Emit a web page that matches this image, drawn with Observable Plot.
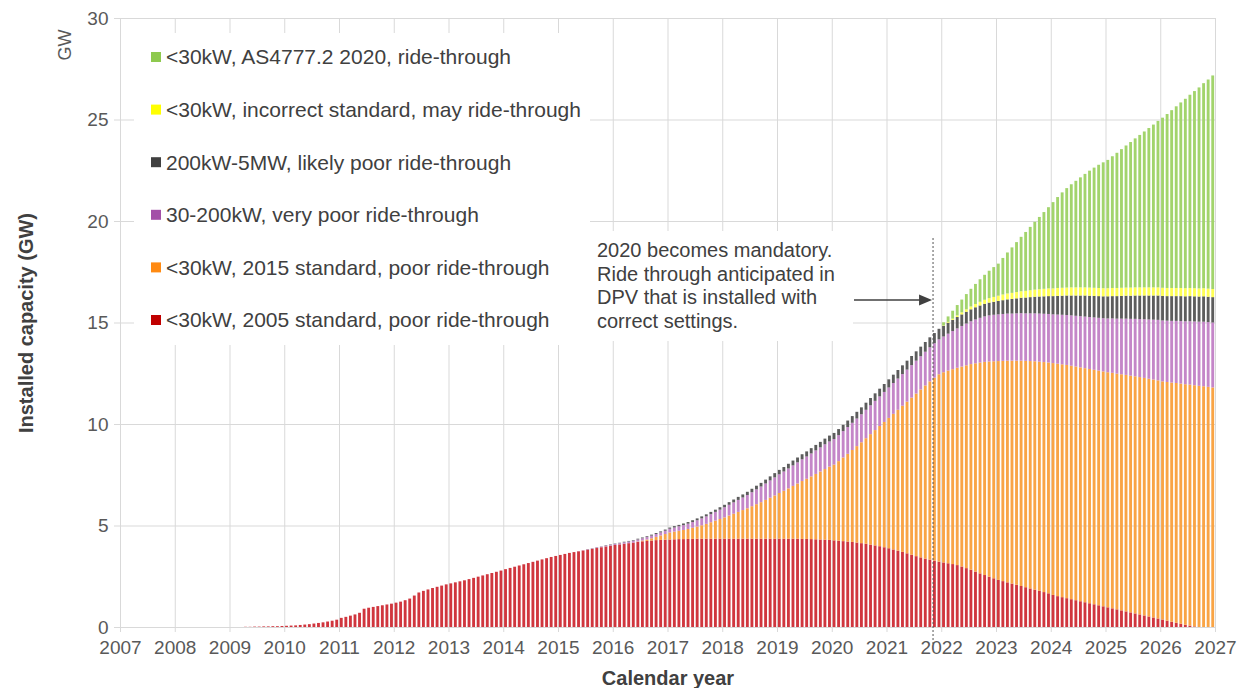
<!DOCTYPE html>
<html>
<head>
<meta charset="utf-8">
<script src="https://cdn.jsdelivr.net/npm/d3@7"></script>
<script src="https://cdn.jsdelivr.net/npm/@observablehq/plot@0.6"></script>
<style>
  html, body { margin: 0; padding: 0; background: #fff; }
  svg { display: block; }
</style>
</head>
<body>
<script>
// ---- Data (GW, monthly bars, Jan of start year onward) ----
const seriesNames = [
  "<30kW, 2005 standard, poor ride-through",
  "<30kW, 2015 standard, poor ride-through",
  "30-200kW, very poor ride-through",
  "200kW-5MW, likely poor ride-through",
  "<30kW, incorrect standard, may ride-through",
  "<30kW, AS4777.2 2020, ride-through"
];
const barColors = ["#d0363e", "#f9a445", "#c486c8", "#5c5c5c", "#ffff55", "#a2d46c"];
const legendColors = ["#c00000", "#ff8a12", "#a350a8", "#404040", "#ffff00", "#8ec94e"];
const xTicks = [2007,2008,2009,2010,2011,2012,2013,2014,2015,2016,2017,2018,2019,2020,2021,2022,2023,2024,2025,2026,2027];
const yTicks = [0, 5, 10, 15, 20, 25, 30];

const std2005Start = 2009;
const std2005 = [
  0,0,0,0.01,0.01,0.02,0.02,0.03,0.03,0.04,0.04,0.05,
  0.06,0.07,0.08,0.10,0.12,0.14,0.17,0.20,0.23,0.27,0.31,0.36,
  0.45,0.50,0.56,0.62,0.70,0.90,0.95,0.99,1.03,1.07,1.11,1.15,
  1.20,1.25,1.32,1.40,1.55,1.70,1.78,1.85,1.92,1.98,2.04,2.10,
  2.15,2.20,2.25,2.30,2.36,2.42,2.48,2.54,2.60,2.66,2.72,2.78,
  2.85,2.91,2.97,3.03,3.09,3.15,3.21,3.27,3.33,3.39,3.45,3.50,
  3.55,3.60,3.65,3.69,3.73,3.77,3.81,3.85,3.89,3.93,3.97,4.01,
  4.04,4.07,4.10,4.13,4.16,4.19,4.22,4.24,4.26,4.28,4.29,4.30,
  4.31,4.32,4.33,4.33,4.34,4.34,4.35,4.35,4.35,4.35,4.35,4.35,
  4.35,4.35,4.35,4.35,4.35,4.35,4.35,4.35,4.35,4.35,4.35,4.35,
  4.35,4.35,4.35,4.35,4.35,4.34,4.34,4.33,4.32,4.31,4.30,4.29,
  4.27,4.25,4.23,4.21,4.19,4.16,4.13,4.10,4.06,4.02,3.98,3.93,
  3.88,3.82,3.76,3.70,3.63,3.56,3.49,3.43,3.37,3.32,3.27,3.22,
  3.18,3.14,3.10,3.05,2.98,2.90,2.82,2.73,2.64,2.56,2.48,2.40,
  2.32,2.26,2.20,2.14,2.08,2.02,1.96,1.90,1.84,1.78,1.72,1.66,
  1.58,1.52,1.47,1.42,1.37,1.32,1.27,1.22,1.17,1.12,1.07,1.02,
  0.97,0.92,0.87,0.82,0.77,0.72,0.67,0.62,0.57,0.52,0.47,0.42,
  0.37,0.31,0.26,0.21,0.16,0.11,0.07,0.03,0,0,0,0
];

const std2015Start = 2016;
const std2015 = [
  0,0,0,0,0,0.02,0.04,0.07,0.11,0.16,0.22,0.28,
  0.35,0.38,0.41,0.45,0.49,0.55,0.60,0.66,0.73,0.81,0.89,0.97,
  1.05,1.14,1.23,1.32,1.41,1.50,1.60,1.70,1.80,1.91,2.02,2.13,
  2.25,2.36,2.48,2.60,2.72,2.85,2.96,3.09,3.22,3.35,3.48,3.61,
  3.73,3.92,4.12,4.32,4.53,4.75,4.97,5.20,5.44,5.68,5.92,6.17,
  6.42,6.68,6.94,7.20,7.47,7.74,8.01,8.27,8.53,8.78,9.01,9.23,
  9.37,9.49,9.60,9.72,9.85,9.99,10.13,10.26,10.39,10.50,10.60,10.69,
  10.78,10.85,10.92,10.98,11.04,11.10,11.15,11.20,11.25,11.29,11.33,11.37,
  11.42,11.45,11.47,11.49,11.50,11.51,11.52,11.53,11.54,11.55,11.56,11.57,
  11.58,11.60,11.61,11.63,11.65,11.66,11.68,11.69,11.70,11.71,11.72,11.73,
  11.73,11.76,11.78,11.81,11.83,11.85,11.87,11.88,11.88,11.86,11.83,11.80
];

const kw30to200Start = 2015;
const kw30to200 = [
  0,0,0,0,0.01,0.01,0.02,0.02,0.03,0.03,0.04,0.04,
  0.05,0.06,0.07,0.08,0.09,0.10,0.11,0.12,0.13,0.14,0.15,0.16,
  0.18,0.20,0.22,0.24,0.26,0.28,0.31,0.34,0.37,0.40,0.43,0.46,
  0.50,0.53,0.56,0.59,0.62,0.65,0.69,0.73,0.77,0.81,0.85,0.89,
  0.92,0.95,0.98,1.01,1.04,1.07,1.10,1.13,1.16,1.19,1.22,1.24,
  1.26,1.28,1.30,1.32,1.34,1.36,1.38,1.40,1.42,1.44,1.46,1.48,
  1.50,1.52,1.54,1.56,1.58,1.60,1.62,1.64,1.66,1.68,1.70,1.72,
  1.76,1.82,1.88,1.94,2.00,2.06,2.11,2.16,2.20,2.24,2.27,2.29,
  2.30,2.31,2.32,2.32,2.33,2.34,2.34,2.35,2.36,2.37,2.38,2.39,
  2.40,2.42,2.44,2.46,2.48,2.50,2.52,2.54,2.56,2.58,2.60,2.62,
  2.65,2.68,2.71,2.74,2.77,2.80,2.83,2.86,2.89,2.92,2.95,2.98,
  3.00,3.02,3.04,3.06,3.08,3.10,3.12,3.14,3.16,3.18,3.19,3.20
];

const kw200to5MWStart = 2015;
const kw200to5MW = [
  0,0,0,0,0,0,0.01,0.01,0.01,0.01,0.02,0.02,
  0.02,0.02,0.03,0.03,0.03,0.04,0.04,0.04,0.05,0.05,0.05,0.06,
  0.06,0.07,0.07,0.08,0.08,0.09,0.09,0.10,0.10,0.11,0.11,0.12,
  0.12,0.13,0.14,0.15,0.15,0.16,0.17,0.18,0.18,0.19,0.20,0.21,
  0.22,0.22,0.23,0.24,0.24,0.25,0.25,0.26,0.27,0.27,0.28,0.29,
  0.30,0.30,0.31,0.32,0.33,0.33,0.34,0.35,0.36,0.37,0.38,0.39,
  0.40,0.41,0.42,0.43,0.44,0.45,0.46,0.47,0.48,0.49,0.50,0.52,
  0.53,0.54,0.55,0.56,0.57,0.58,0.59,0.60,0.61,0.62,0.63,0.64,
  0.66,0.68,0.70,0.72,0.74,0.76,0.78,0.80,0.82,0.84,0.86,0.88,
  0.90,0.92,0.94,0.96,0.98,1.00,1.02,1.04,1.05,1.06,1.07,1.08,
  1.09,1.10,1.11,1.12,1.13,1.14,1.15,1.16,1.17,1.18,1.19,1.20,
  1.21,1.21,1.22,1.22,1.23,1.23,1.24,1.24,1.24,1.25,1.25,1.25
];

const incorrectStart = 2022;
const incorrect = [
  0.02,0.04,0.06,0.08,0.10,0.12,0.14,0.16,0.18,0.20,0.22,0.24,
  0.26,0.28,0.29,0.30,0.31,0.32,0.33,0.34,0.35,0.36,0.37,0.38,
  0.38,0.39,0.39,0.39,0.40,0.40,0.40,0.40,0.40,0.40,0.40,0.40,
  0.40,0.40,0.40,0.40,0.40,0.40,0.40,0.40,0.40,0.40,0.40,0.40,
  0.40,0.40,0.40,0.40,0.40,0.40,0.40,0.40,0.40,0.40,0.40,0.40
];

const as4777Start = 2022;
const as4777 = [
  0.15,0.27,0.39,0.51,0.63,0.75,0.87,0.99,1.11,1.23,1.35,1.47,
  1.58,1.80,2.02,2.24,2.46,2.68,2.90,3.12,3.34,3.56,3.78,4.00,
  4.25,4.48,4.70,4.90,5.08,5.25,5.42,5.59,5.76,5.92,6.07,6.20,
  6.32,6.49,6.66,6.83,7.00,7.17,7.34,7.51,7.68,7.85,8.02,8.20,
  8.38,8.57,8.76,8.95,9.14,9.33,9.52,9.71,9.90,10.10,10.30,10.52
];

const annotationLines = [
  "2020 becomes mandatory.",
  "Ride through anticipated in",
  "DPV that is installed with",
  "correct settings."
];
const mandatoryDate = 2021.85;

// ---- Build table ----
const rows = [];
function addSeries(name, startYear, values) {
  values.forEach((v, i) => {
    if (v > 0) rows.push({series: name, m: (startYear - 2007) * 12 + i, v});
  });
}
addSeries(seriesNames[0], std2005Start, std2005);
addSeries(seriesNames[1], std2015Start, std2015);
addSeries(seriesNames[2], kw30to200Start, kw30to200);
addSeries(seriesNames[3], kw200to5MWStart, kw200to5MW);
addSeries(seriesNames[4], incorrectStart, incorrect);
addSeries(seriesNames[5], as4777Start, as4777);

const FONT = "'Liberation Sans', Arial, Helvetica, sans-serif";

const chart = Plot.plot({
  width: 1242,
  height: 688,
  marginLeft: 120,
  marginRight: 27,
  marginTop: 18,
  marginBottom: 61,
  style: {fontFamily: FONT, fontSize: "19px", color: "#595959", background: "#fff"},
  x: {domain: [2007, 2027]},
  y: {domain: [0, 30]},
  color: {domain: seriesNames, range: barColors},
  marks: [
    Plot.gridX(xTicks, {stroke: "#d9d9d9", strokeOpacity: 1}),
    Plot.gridY(yTicks, {stroke: "#d9d9d9", strokeOpacity: 1}),
    Plot.axisX({ticks: xTicks, tickFormat: d => String(d), tickSize: 5, tickPadding: 8,
                stroke: "#d9d9d9", fill: "#595959", label: null}),
    Plot.axisY({ticks: yTicks, tickSize: 6, tickPadding: 6,
                stroke: "#d9d9d9", fill: "#595959", label: null}),
    Plot.rectY(rows, {
      x1: d => 2007 + d.m / 12,
      x2: d => 2007 + (d.m + 1) / 12,
      y: "v",
      fill: "series",
      insetLeft: 0.85,
      insetRight: 0.85
    })
  ]
});
document.body.appendChild(chart);

const svg = d3.select(chart);
const xs = chart.scale("x");

// Legend (white box covering gridlines)
const lg = svg.append("g").attr("font-family", FONT).attr("text-anchor", "start");
lg.append("rect").attr("x", 134).attr("y", 33).attr("width", 456).attr("height", 312).attr("fill", "#fff");
const legendOrder = [5, 4, 3, 2, 1, 0];
legendOrder.forEach((si, r) => {
  const cy = 57 + r * 52.6;
  lg.append("rect").attr("x", 151).attr("y", cy - 5).attr("width", 10).attr("height", 10).attr("fill", legendColors[si]);
  lg.append("text").attr("x", 166).attr("y", cy).attr("dy", "0.35em").attr("text-anchor", "start")
    .attr("font-size", 21).attr("fill", "#404040").text(seriesNames[si]);
});

// Annotation
const an = svg.append("g").attr("font-family", FONT).attr("text-anchor", "start");
an.append("rect").attr("x", 590).attr("y", 231).attr("width", 263).attr("height", 110).attr("fill", "#fff");
annotationLines.forEach((t, i) => {
  an.append("text").attr("x", 597).attr("y", 250 + i * 23.7).attr("dy", "0.35em").attr("text-anchor", "start")
    .attr("font-size", 20).attr("fill", "#404040").text(t);
});
const lx = xs.apply(mandatoryDate);
svg.append("line").attr("x1", lx).attr("x2", lx).attr("y1", 238).attr("y2", 645)
  .attr("stroke", "#555").attr("stroke-width", 1).attr("stroke-dasharray", "2,2");
svg.append("line").attr("x1", 854).attr("x2", lx - 12).attr("y1", 300).attr("y2", 300)
  .attr("stroke", "#404040").attr("stroke-width", 1.3);
svg.append("path").attr("d", `M${lx - 1},300 L${lx - 14},294.5 L${lx - 14},305.5 Z`).attr("fill", "#404040");

// Axis titles
svg.append("text").attr("transform", "translate(33,323) rotate(-90)").attr("text-anchor", "middle")
  .attr("font-family", FONT).attr("font-size", 20).attr("font-weight", "bold").attr("fill", "#404040")
  .text("Installed capacity (GW)");
svg.append("text").attr("transform", "translate(71,45) rotate(-90)").attr("text-anchor", "middle")
  .attr("font-family", FONT).attr("font-size", 18).attr("fill", "#595959").text("GW");
svg.append("text").attr("x", 668).attr("y", 685).attr("text-anchor", "middle")
  .attr("font-family", FONT).attr("font-size", 20).attr("font-weight", "bold").attr("fill", "#404040")
  .text("Calendar year");
</script>
</body>
</html>
